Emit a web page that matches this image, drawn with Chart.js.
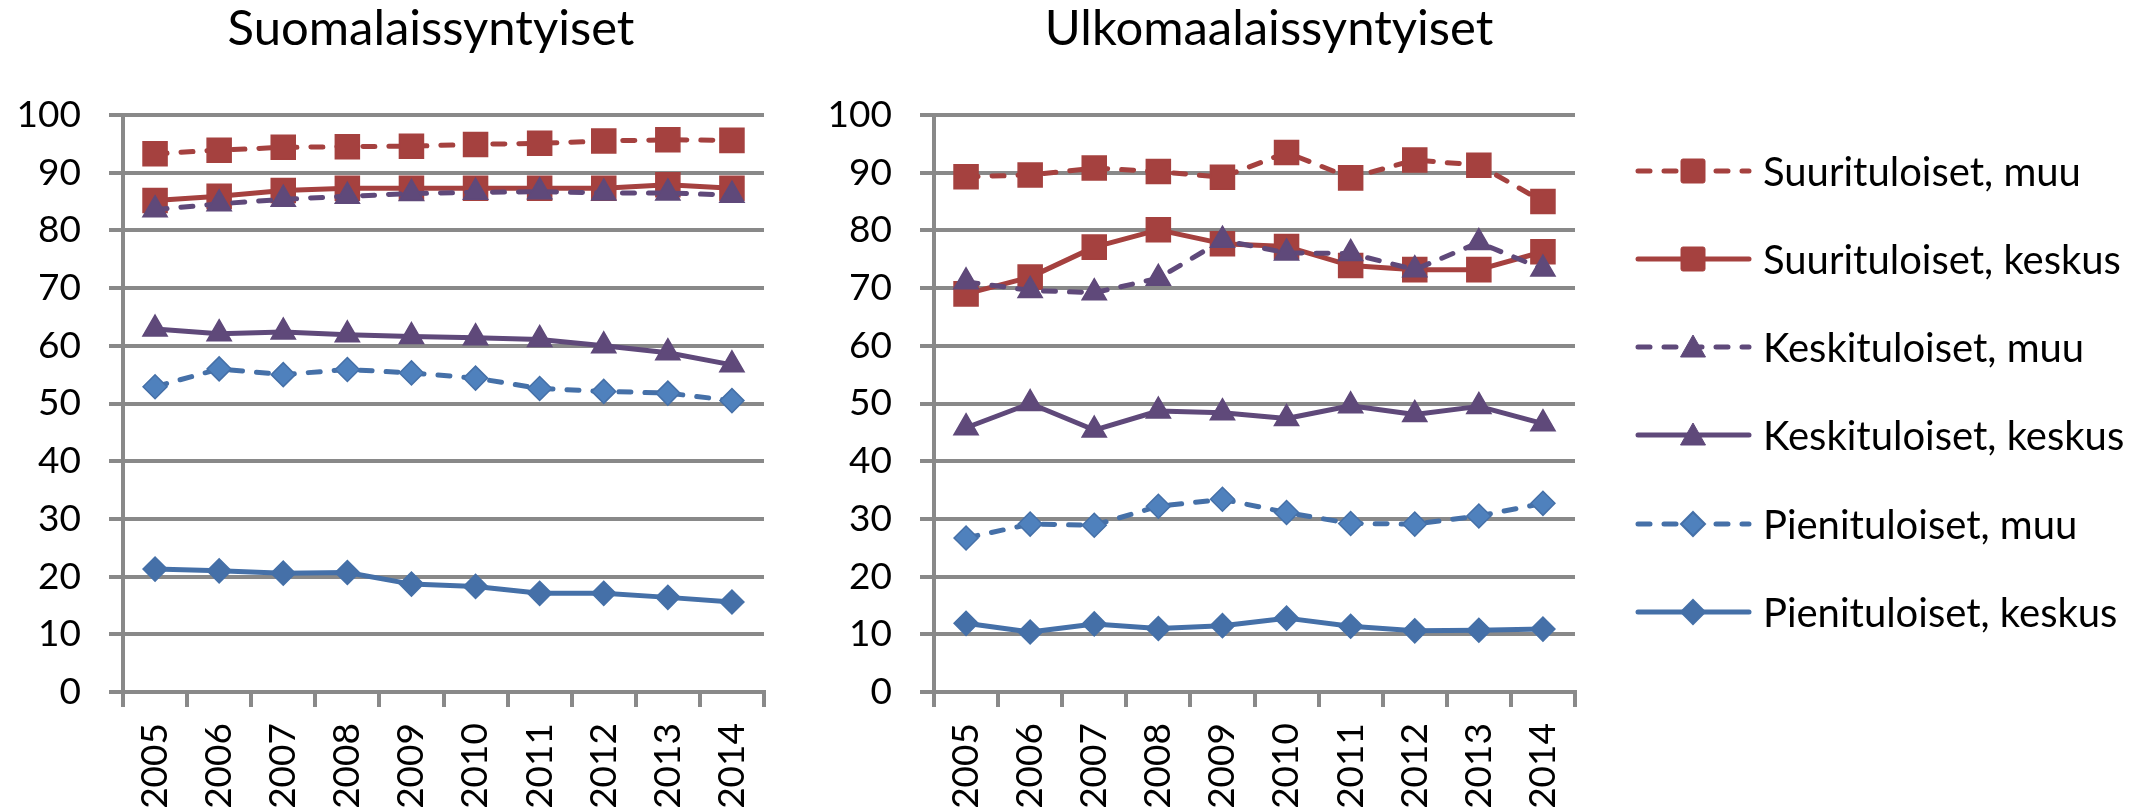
<!DOCTYPE html>
<html>
<head>
<meta charset="utf-8">
<script src="https://cdn.jsdelivr.net/npm/chart.js@4.4.1/dist/chart.umd.min.js"></script>
<style>
  html, body { margin: 0; padding: 0; background: #ffffff; }
  body { width: 2146px; height: 812px; position: relative; overflow: hidden; font-family: Lato, "Open Sans", sans-serif; }
  .box { position: absolute; top: 0; height: 812px; }
  #legend { position: absolute; left: 0; top: 0; width: 2146px; height: 812px; pointer-events: none; }
  .lrow { position: absolute; left: 1635px; height: 44px; display: flex; align-items: center; }
  .lrow svg { width: 117px; height: 40px; flex: none; }
  .lrow span { margin-left: 11px; font-size: 40px; color: #000; white-space: nowrap; line-height: 44px; }
</style>
</head>
<body>
<div class="box" id="boxL" style="left:0px;width:900px;"><canvas id="chartL"></canvas></div>
<div class="box" id="boxR" style="left:780px;width:980px;"><canvas id="chartR"></canvas></div>
<div id="legend"></div>
<script>
// ---------- DATA ----------
const years = ["2005","2006","2007","2008","2009","2010","2011","2012","2013","2014"];
const seriesNames = ["Suurituloiset, muu","Suurituloiset, keskus","Keskituloiset, muu","Keskituloiset, keskus","Pienituloiset, muu","Pienituloiset, keskus"];
const yTicks = [0,10,20,30,40,50,60,70,80,90,100];
const titleLeft = "Suomalaissyntyiset";
const titleRight = "Ulkomaalaissyntyiset";

// Suomalaissyntyiset
const finSuuriMuu    = [93.3, 93.9, 94.4, 94.5, 94.6, 94.9, 95.1, 95.5, 95.7, 95.6];
const finSuuriKeskus = [85.2, 85.9, 86.9, 87.3, 87.3, 87.3, 87.3, 87.3, 87.9, 87.3];
const finKeskiMuu    = [83.6, 84.6, 85.4, 85.9, 86.4, 86.6, 86.7, 86.5, 86.5, 86.1];
const finKeskiKeskus = [62.9, 62.1, 62.4, 61.9, 61.6, 61.4, 61.1, 60.0, 58.8, 56.7];
const finPieniMuu    = [52.9, 56.0, 55.0, 55.9, 55.3, 54.4, 52.6, 52.1, 51.8, 50.5];
const finPieniKeskus = [21.3, 21.0, 20.6, 20.7, 18.7, 18.3, 17.1, 17.1, 16.4, 15.6];

// Ulkomaalaissyntyiset
const forSuuriMuu    = [89.3, 89.6, 90.8, 90.2, 89.2, 93.5, 89.1, 92.2, 91.3, 85.0];
const forSuuriKeskus = [69.0, 71.9, 77.1, 80.1, 77.7, 77.2, 73.9, 73.2, 73.2, 76.3];
const forKeskiMuu    = [71.1, 69.6, 69.2, 71.7, 78.3, 76.1, 76.0, 73.2, 77.9, 73.3];
const forKeskiKeskus = [45.8, 50.0, 45.4, 48.7, 48.4, 47.4, 49.6, 48.1, 49.5, 46.5];
const forPieniMuu    = [26.7, 29.1, 28.9, 32.2, 33.4, 31.1, 29.2, 29.1, 30.5, 32.7];
const forPieniKeskus = [11.9, 10.4, 11.8, 11.0, 11.5, 12.8, 11.4, 10.6, 10.7, 10.9];

// ---------- STYLES ----------
const RED = '#A5413F', PURPLE = '#5F497A', BLUE = '#4570A8', BLUE_FILL = '#4F81BD';
const GRID = '#898989';
const FONT = 'Lato, "Open Sans", sans-serif';
const styles = [
  { color: RED,    fill: RED,       dashed: true,  shape: 'rect',     r: 17 },
  { color: RED,    fill: RED,       dashed: false, shape: 'rect',     r: 17 },
  { color: PURPLE, fill: PURPLE,    dashed: true,  shape: 'triangle', r: 14 },
  { color: PURPLE, fill: PURPLE,    dashed: false, shape: 'triangle', r: 14 },
  { color: BLUE,   fill: BLUE_FILL, dashed: true,  shape: 'rectRot',  r: 12 },
  { color: BLUE,   fill: BLUE,      dashed: false, shape: 'rectRot',  r: 12 }
];

function makeDatasets(seriesList) {
  return seriesList.map((vals, i) => {
    const s = styles[i];
    return {
      label: seriesNames[i],
      data: vals,
      yAxisID: 'y',
      borderColor: s.color,
      backgroundColor: s.fill,
      borderWidth: 5,
      borderDash: s.dashed ? [12, 14] : [],
      borderCapStyle: 'round',
      borderJoinStyle: 'round',
      tension: 0,
      fill: false,
      pointStyle: s.shape,
      pointRadius: s.r,
      pointHoverRadius: s.r,
      pointBackgroundColor: s.fill,
      pointBorderColor: s.color,
      pointBorderWidth: 1.5,
      order: seriesList.length - 1 - i
    };
  });
}

// cfg: padLeft, yAxisWidth, padRight, spacerWidth (empty right-side box that shifts the title centre)
function makeChart(canvasId, title, seriesList, cfg) {
  const scales = {
    x: {
      type: 'category',
      offset: true,
      grid: { display: true, drawOnChartArea: false, drawTicks: true, tickLength: 15, color: GRID, lineWidth: 4, offset: true },
      border: { display: true, color: GRID, width: 4 },
      ticks: { color: '#000', font: { family: FONT, size: 37 }, maxRotation: 90, minRotation: 90, padding: 16, autoSkip: false },
      afterFit: (s) => { s.height = 120; }
    },
    y: {
      position: 'left',
      min: 0, max: 100,
      afterBuildTicks: (s) => { s.ticks = yTicks.map(v => ({ value: v })); },
      grid: { color: GRID, lineWidth: 4, tickLength: 14, drawTicks: true },
      border: { display: true, color: GRID, width: 4 },
      ticks: { color: '#000', font: { family: FONT, size: 37 }, padding: 28 },
      afterFit: (s) => { s.width = cfg.yAxisWidth; }
    }
  };
  if (cfg.spacerWidth > 0) {
    scales.spacer = {
      position: 'right',
      min: 0, max: 100,
      grid: { display: false, drawTicks: false },
      border: { display: false },
      ticks: { display: false },
      afterFit: (s) => { s.width = cfg.spacerWidth; }
    };
  }
  return new Chart(document.getElementById(canvasId), {
    type: 'line',
    data: { labels: years, datasets: makeDatasets(seriesList) },
    options: {
      responsive: true,
      maintainAspectRatio: false,
      animation: false,
      devicePixelRatio: 1,
      layout: { padding: { left: cfg.padLeft, right: cfg.padRight, top: 0, bottom: 0 } },
      plugins: {
        legend: { display: false },
        tooltip: { enabled: false },
        title: {
          display: true,
          text: title,
          color: '#000',
          font: { family: FONT, size: 49, weight: 'normal', lineHeight: 1.2 },
          padding: { top: 0, bottom: 56.2 }
        }
      },
      scales: scales
    }
  });
}

makeChart('chartL', titleLeft,
  [finSuuriMuu, finSuuriKeskus, finKeskiMuu, finKeskiKeskus, finPieniMuu, finPieniKeskus],
  { padLeft: 0, yAxisWidth: 123, padRight: 38, spacerWidth: 98 });
makeChart('chartR', titleRight,
  [forSuuriMuu, forSuuriKeskus, forKeskiMuu, forKeskiKeskus, forPieniMuu, forPieniKeskus],
  { padLeft: 20, yAxisWidth: 134, padRight: 22, spacerWidth: 163 });

// ---------- LEGEND (HTML) ----------
const legendRowCenters = [171, 259, 347, 435, 524, 612];
function markerSvg(s) {
  const cx = 58, cy = 20;
  if (s.shape === 'rect') return `<rect x="${cx-12}" y="${cy-12}" width="24" height="24" rx="2" fill="${s.fill}" stroke="${s.color}" stroke-width="1"/>`;
  if (s.shape === 'triangle') return `<polygon points="${cx},${cy-12} ${cx+12.5},${cy+10} ${cx-12.5},${cy+10}" fill="${s.fill}" stroke="${s.color}" stroke-width="1"/>`;
  return `<polygon points="${cx},${cy-12} ${cx+12},${cy} ${cx},${cy+12} ${cx-12},${cy}" fill="${s.fill}" stroke="${s.color}" stroke-width="2"/>`;
}
const legendEl = document.getElementById('legend');
seriesNames.forEach((name, i) => {
  const s = styles[i];
  const row = document.createElement('div');
  row.className = 'lrow';
  row.style.top = (legendRowCenters[i] - 22) + 'px';
  const dash = s.dashed ? 'stroke-dasharray="12 14"' : '';
  row.innerHTML = `<svg viewBox="0 0 117 40"><line x1="3" y1="20" x2="114" y2="20" stroke="${s.color}" stroke-width="5" stroke-linecap="round" ${dash}/>${markerSvg(s)}</svg><span>${name}</span>`;
  legendEl.appendChild(row);
});
</script>
</body>
</html>
